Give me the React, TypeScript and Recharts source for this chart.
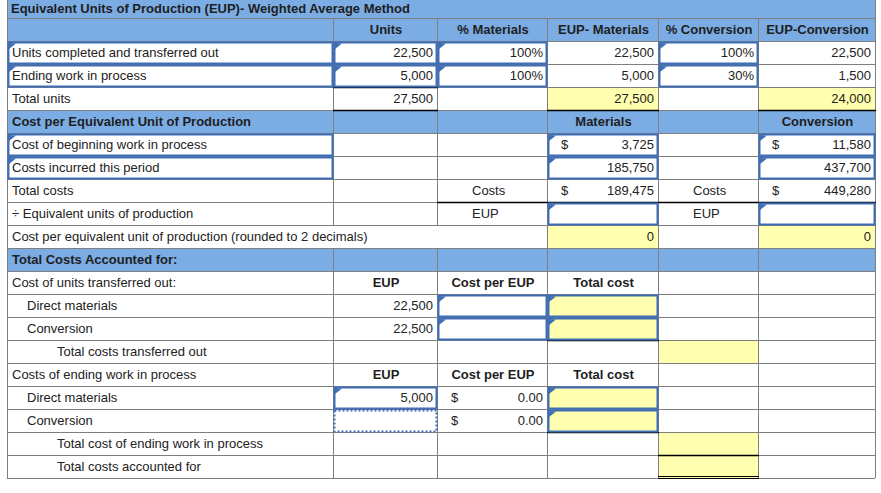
import React from "react";
import { Surface, Layer, Rectangle, Text, Polygon } from "recharts";

// ---- data read from the worksheet ----
const title = "Equivalent Units of Production (EUP)- Weighted Average Method";
const columnHeaders = ["", "Units", "% Materials", "EUP- Materials", "% Conversion", "EUP-Conversion"];

const unitRows = ["Units completed and transferred out", "Ending work in process"];
const units = [22500, 5000];
const pctMaterials = [100, 100];
const eupMaterials = [22500, 5000];
const pctConversion = [100, 30];
const eupConversion = [22500, 1500];
const totalUnits = 27500;
const totalEupMaterials = 27500;
const totalEupConversion = 24000;

const costRows = ["Cost of beginning work in process", "Costs incurred this period"];
const costMaterials = [3725, 185750];
const costConversion = [11580, 437700];
const totalCostMaterials = 189475;
const totalCostConversion = 449280;
const costPerEup = [0, 0];

const transferredEup = [22500, 22500];
const endingEup = [5000];
const endingCostPerEup = ["0.00", "0.00"];

// ---- layout ----
const W = 881;
const H = 493;
const colX = [7, 333, 437, 547, 658, 758, 875];
const titleH = 18;
const rowH = 23;
const BLUE = "#7BADE4";
const YELLOW = "#FFFFAF";
const GRID = "#7f7f7f";
const INPUT = "#3F6EB6";
const TXT = "#222";
const FONT = "'Liberation Sans', Arial, sans-serif";

const fmt = (n: number) => n.toLocaleString("en-US");

type Cell = {
  r: number;
  c: number;
  text?: string;
  align?: "left" | "right" | "center";
  indent?: number;
  bold?: boolean;
  dollar?: boolean;
  input?: boolean;
  dotted?: boolean;
  yellow?: boolean;
};

const rowTop = (r: number) => titleH + (r - 1) * rowH;

const blueRows = [1, 5, 11];
const cells: Cell[] = [];

columnHeaders.forEach((h, c) => {
  if (h) cells.push({ r: 1, c, text: h, align: "center", bold: true });
});
unitRows.forEach((label, i) => {
  const r = 2 + i;
  cells.push({ r, c: 0, text: label, input: true });
  cells.push({ r, c: 1, text: fmt(units[i]), align: "right", input: true });
  cells.push({ r, c: 2, text: pctMaterials[i] + "%", align: "right", input: true });
  cells.push({ r, c: 3, text: fmt(eupMaterials[i]), align: "right" });
  cells.push({ r, c: 4, text: pctConversion[i] + "%", align: "right", input: true });
  cells.push({ r, c: 5, text: fmt(eupConversion[i]), align: "right" });
});
cells.push({ r: 4, c: 0, text: "Total units" });
cells.push({ r: 4, c: 1, text: fmt(totalUnits), align: "right" });
cells.push({ r: 4, c: 3, text: fmt(totalEupMaterials), align: "right", yellow: true });
cells.push({ r: 4, c: 5, text: fmt(totalEupConversion), align: "right", yellow: true });

cells.push({ r: 5, c: 0, text: "Cost per Equivalent Unit of Production", bold: true });
cells.push({ r: 5, c: 3, text: "Materials", align: "center", bold: true });
cells.push({ r: 5, c: 5, text: "Conversion", align: "center", bold: true });
costRows.forEach((label, i) => {
  const r = 6 + i;
  cells.push({ r, c: 0, text: label, input: true });
  cells.push({ r, c: 3, text: fmt(costMaterials[i]), align: "right", input: true, dollar: i === 0 });
  cells.push({ r, c: 5, text: fmt(costConversion[i]), align: "right", input: true, dollar: i === 0 });
});
cells.push({ r: 8, c: 0, text: "Total costs" });
cells.push({ r: 8, c: 2, text: "Costs", indent: 30 });
cells.push({ r: 8, c: 3, text: fmt(totalCostMaterials), align: "right", dollar: true });
cells.push({ r: 8, c: 4, text: "Costs", indent: 30 });
cells.push({ r: 8, c: 5, text: fmt(totalCostConversion), align: "right", dollar: true });
cells.push({ r: 9, c: 0, text: "÷ Equivalent units of production" });
cells.push({ r: 9, c: 2, text: "EUP", indent: 30 });
cells.push({ r: 9, c: 3, input: true });
cells.push({ r: 9, c: 4, text: "EUP", indent: 30 });
cells.push({ r: 9, c: 5, input: true });
cells.push({ r: 10, c: 0, text: "Cost per equivalent unit of production (rounded to 2 decimals)" });
cells.push({ r: 10, c: 3, text: String(costPerEup[0]), align: "right", yellow: true });
cells.push({ r: 10, c: 5, text: String(costPerEup[1]), align: "right", yellow: true });

cells.push({ r: 11, c: 0, text: "Total Costs Accounted for:", bold: true });
cells.push({ r: 12, c: 0, text: "Cost of units transferred out:" });
["Direct materials", "Conversion"].forEach((label, i) => {
  const r = 13 + i;
  cells.push({ r, c: 0, text: label, indent: 15 });
  cells.push({ r, c: 1, text: fmt(transferredEup[i]), align: "right" });
  cells.push({ r, c: 2, input: true });
  cells.push({ r, c: 3, input: true, yellow: true });
});
cells.push({ r: 15, c: 0, text: "Total costs transferred out", indent: 45 });
cells.push({ r: 15, c: 4, yellow: true });
cells.push({ r: 16, c: 0, text: "Costs of ending work in process" });
[12, 16].forEach((r) => {
  cells.push({ r, c: 1, text: "EUP", align: "center", bold: true });
  cells.push({ r, c: 2, text: "Cost per EUP", align: "center", bold: true });
  cells.push({ r, c: 3, text: "Total cost", align: "center", bold: true });
});
["Direct materials", "Conversion"].forEach((label, i) => {
  const r = 17 + i;
  cells.push({ r, c: 0, text: label, indent: 15 });
  if (i < endingEup.length) {
    cells.push({ r, c: 1, text: fmt(endingEup[i]), align: "right", input: true });
  } else {
    cells.push({ r, c: 1, dotted: true });
  }
  cells.push({ r, c: 2, text: endingCostPerEup[i], align: "right", dollar: true });
  cells.push({ r, c: 3, input: true, yellow: true });
});
cells.push({ r: 19, c: 0, text: "Total cost of ending work in process", indent: 45 });
cells.push({ r: 19, c: 4, yellow: true });
cells.push({ r: 20, c: 0, text: "Total costs accounted for", indent: 45 });
cells.push({ r: 20, c: 4, yellow: true });

// black total rules: [row, fromCol, toCol, position]
const blackRules: [number, number, number, "top" | "bottom"][] = [
  [4, 1, 1, "top"],
  [4, 1, 1, "bottom"],
  [4, 3, 3, "bottom"],
  [4, 5, 5, "bottom"],
  [8, 2, 5, "bottom"],
  [14, 3, 3, "bottom"],
  [18, 3, 3, "bottom"],
  [19, 4, 4, "bottom"],
];

export default function App() {
  const nRows = 20;
  const lines: React.ReactNode[] = [];

  // horizontal grid
  for (let r = 1; r <= nRows + 1; r++) {
    const y = rowTop(r) + 0.5;
    lines.push(<line key={"h" + r} x1={colX[0]} x2={colX[6]} y1={y} y2={y} stroke={GRID} />);
  }
  // vertical grid
  colX.forEach((x, i) => {
    for (let r = 1; r <= nRows; r++) {
      if (r === 10 && (i === 1 || i === 2)) continue;
      lines.push(
        <line key={"v" + i + "-" + r} x1={x + 0.5} x2={x + 0.5} y1={rowTop(r)} y2={rowTop(r + 1)} stroke={GRID} />
      );
    }
  });
  lines.push(<line key="vt0" x1={colX[0] + 0.5} x2={colX[0] + 0.5} y1={0} y2={titleH} stroke={GRID} />);
  lines.push(<line key="vt6" x1={colX[6] + 0.5} x2={colX[6] + 0.5} y1={0} y2={titleH} stroke={GRID} />);

  return (
    <div style={{ position: "absolute", left: 0, top: 0, width: W, height: H, background: "#fff" }}>
      <Surface width={W} height={H}>
        <Layer>
          <Rectangle x={colX[0]} y={0} width={colX[6] - colX[0]} height={titleH} fill={BLUE} />
          {blueRows.map((r) => (
            <Rectangle key={"b" + r} x={colX[0]} y={rowTop(r)} width={colX[6] - colX[0]} height={rowH} fill={BLUE} />
          ))}
          {cells
            .filter((c) => c.yellow)
            .map((c, i) => (
              <Rectangle
                key={"y" + i}
                x={colX[c.c]}
                y={rowTop(c.r)}
                width={colX[c.c + 1] - colX[c.c]}
                height={rowH}
                fill={YELLOW}
              />
            ))}
        </Layer>
        <Layer>{lines}</Layer>
        <Layer>
          {blackRules.map(([r, c0, c1, pos], i) => {
            const y = (pos === "top" ? rowTop(r) : rowTop(r + 1)) + 0.5;
            return <line key={"k" + i} x1={colX[c0]} x2={colX[c1 + 1] + 1} y1={y} y2={y} stroke="#000" strokeWidth={1.5} />;
          })}
          <line x1={colX[4]} x2={colX[5] + 1} y1={rowTop(21) - 1.5} y2={rowTop(21) - 1.5} stroke="#000" strokeWidth={1.2} />
          <line x1={colX[4]} x2={colX[5] + 1} y1={rowTop(21) + 0.5} y2={rowTop(21) + 0.5} stroke="#000" strokeWidth={1.2} />
        </Layer>
        <Layer>
          {cells
            .filter((c) => c.input || c.dotted)
            .map((c, i) => {
              const x = colX[c.c];
              const y = rowTop(c.r);
              const w = colX[c.c + 1] - x;
              return (
                <g key={"in" + i}>
                  <rect
                    x={x + 1.5}
                    y={y + 1.5}
                    width={w - 2}
                    height={rowH - 2}
                    fill="none"
                    stroke={INPUT}
                    strokeWidth={2}
                    strokeDasharray={c.dotted ? "2 2" : undefined}
                  />
                  {c.input && (
                    <Polygon
                      points={[
                        { x: x + 2, y: y + 2 },
                        { x: x + 9, y: y + 2.5 },
                        { x: x + 2, y: y + 8 },
                      ]}
                      fill={INPUT}
                    />
                  )}
                </g>
              );
            })}
        </Layer>
        <Layer>
          <Text x={colX[0] + 4} y={13} style={{ fontFamily: FONT, fontSize: 13, fontWeight: 700 }} fill="#1e1e1e">
            {title}
          </Text>
          {cells
            .filter((c) => c.text || c.dollar)
            .map((c, i) => {
              const x0 = colX[c.c];
              const x1 = colX[c.c + 1];
              const y = rowTop(c.r) + 16;
              const align = c.align || "left";
              const x = align === "right" ? x1 - 4 : align === "center" ? (x0 + x1) / 2 + 1 : x0 + 5 + (c.indent || 0);
              const anchor = align === "right" ? "end" : align === "center" ? "middle" : "start";
              const style = { fontFamily: FONT, fontSize: 13, fontWeight: c.bold ? 700 : 400 };
              return (
                <g key={"t" + i}>
                  {c.dollar && (
                    <Text x={x0 + 14} y={y} style={style} fill={TXT}>
                      $
                    </Text>
                  )}
                  {c.text && (
                    <Text x={x} y={y} textAnchor={anchor} style={style} fill={c.bold ? "#1e1e1e" : TXT}>
                      {c.text}
                    </Text>
                  )}
                </g>
              );
            })}
        </Layer>
      </Surface>
    </div>
  );
}
